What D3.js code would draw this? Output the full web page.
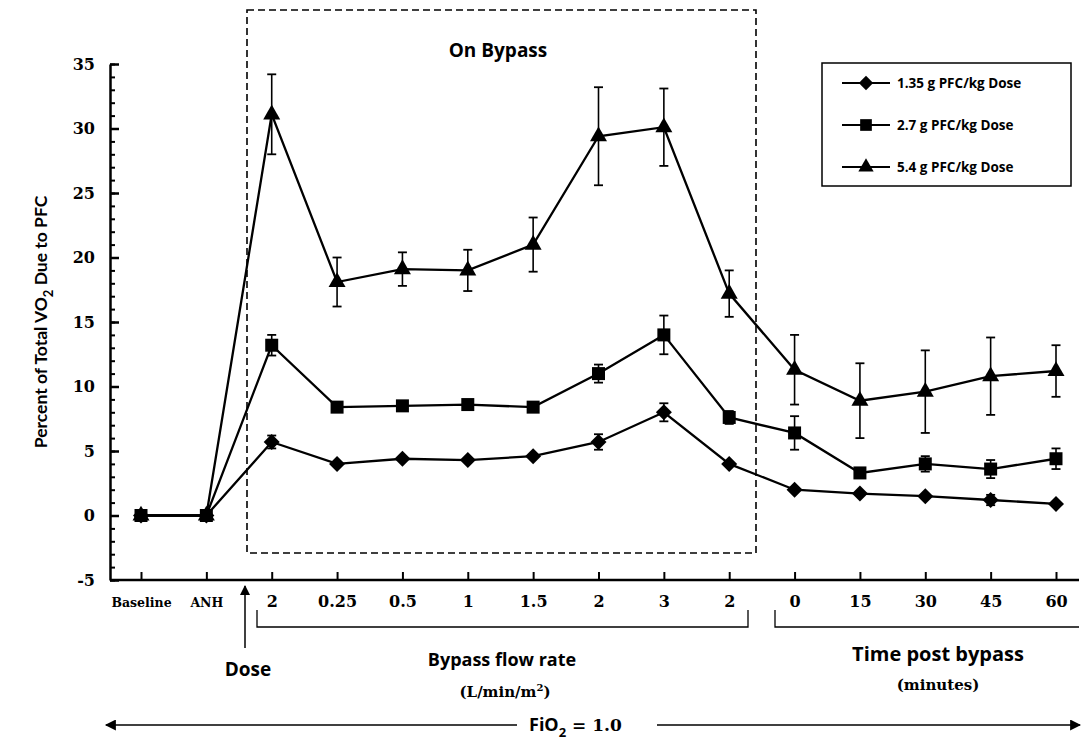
<!DOCTYPE html>
<html>
<head>
<meta charset="utf-8">
<script src="https://cdn.jsdelivr.net/npm/d3@7"></script>
<style>
  body { margin: 0; background: #fff; }
  svg { display: block; }
  .tick text { font-family: "DejaVu Serif", serif; font-weight: bold; fill: #000; }
  .lbl { font-family: "Open Sans", sans-serif; font-weight: bold; fill: #000; }
  .ylbl { font-family: Lato, sans-serif; font-weight: bold; fill: #000; }
  .ser { font-family: "DejaVu Serif", serif; font-weight: bold; fill: #000; }
</style>
</head>
<body>
<svg width="1081" height="742"></svg>
<script>
// x categories (tick labels)
const CATEGORIES = ["Baseline", "ANH", "2", "0.25", "0.5", "1", "1.5", "2", "3", "2", "0", "15", "30", "45", "60"];

// series values
const DOSE_LOW = [0, 0, 5.7, 4.0, 4.4, 4.3, 4.6, 5.7, 8.0, 4.0, 2.0, 1.7, 1.5, 1.2, 0.9];
const DOSE_LOW_ERR = [0, 0, 0.5, 0, 0, 0, 0, 0.6, 0.7, 0, 0, 0, 0, 0.4, 0];
const DOSE_MID = [0, 0, 13.2, 8.4, 8.5, 8.6, 8.4, 11.0, 14.0, 7.6, 6.4, 3.3, 4.0, 3.6, 4.4];
const DOSE_MID_ERR = [0, 0, 0.8, 0, 0, 0, 0, 0.7, 1.5, 0.5, 1.3, 0, 0.6, 0.7, 0.8];
const DOSE_HIGH = [0, 0, 31.1, 18.1, 19.1, 19.0, 21.0, 29.4, 30.1, 17.2, 11.3, 8.9, 9.6, 10.8, 11.2];
const DOSE_HIGH_ERR = [0, 0, 3.1, 1.9, 1.3, 1.6, 2.1, 3.8, 3.0, 1.8, 2.7, 2.9, 3.2, 3.0, 2.0];

const SERIES_NAMES = ["1.35 g PFC/kg Dose", "2.7 g PFC/kg Dose", "5.4 g PFC/kg Dose"];
const Y_TICKS = [-5, 0, 5, 10, 15, 20, 25, 30, 35];

const svg = d3.select('svg');

const AXIS_X0 = 110, AXIS_X1 = 1079;
const xScale = d3.scalePoint().domain(d3.range(CATEGORIES.length)).range([141, 1056]);
const yScale = d3.scaleLinear().domain([-5, 35]).range([580, 64]);

// marker shapes
const shapes = {
  diamond: r => `M0,${-r}L${r},0L0,${r}L${-r},0Z`,
  square: r => `M${-r},${-r}H${r}V${r}H${-r}Z`,
  triangle: r => `M0,${-r * 1.15}L${r},${r * 0.6}L${-r},${r * 0.6}Z`
};

const series = [
  {name: SERIES_NAMES[0], values: DOSE_LOW, err: DOSE_LOW_ERR, shape: 'diamond', r: 8},
  {name: SERIES_NAMES[1], values: DOSE_MID, err: DOSE_MID_ERR, shape: 'square', r: 6.5},
  {name: SERIES_NAMES[2], values: DOSE_HIGH, err: DOSE_HIGH_ERR, shape: 'triangle', r: 8.5}
];

//minor y ticks
svg.append('g')
.attr('transform', `translate(${AXIS_X0},0)`)
.call(d3.axisLeft(yScale).ticks(40).tickSizeInner(-5).tickSizeOuter(0).tickFormat(''))
.call(g => g.select('.domain').remove())
.selectAll('line').attr('stroke-width', 2);

//major y ticks
svg.append('g')
.attr('transform', `translate(${AXIS_X0},0)`)
.call(d3.axisLeft(yScale).tickValues(Y_TICKS).tickSizeInner(-9).tickSizeOuter(0).tickPadding(15)
  .tickFormat(d => String(d)))
.call(g => g.select('.domain').attr('stroke-width', 2.5))
.call(g => g.selectAll('line').attr('stroke-width', 2.5))
.selectAll('text').style('font-size', '16px');

//x axis
svg.append('g')
.attr('transform', `translate(0,${yScale(-5)})`)
.call(d3.axisBottom(xScale).tickSizeInner(-8).tickSizeOuter(0).tickPadding(16)
  .tickFormat(i => CATEGORIES[i]))
.call(g => g.select('.domain').remove())
.call(g => g.selectAll('line').attr('stroke-width', 2))
.selectAll('text')
.style('font-size', (d, i) => i < 2 ? '12.5px' : '16px')
.attr('dy', (d, i) => i < 2 ? '0.9em' : '0.71em');

svg.append('line')
.attr('x1', AXIS_X0).attr('x2', AXIS_X1)
.attr('y1', yScale(-5)).attr('y2', yScale(-5))
.attr('stroke', '#000').attr('stroke-width', 2.5);

//on bypass dashed box
svg.append('rect')
.attr('x', 247).attr('y', 10).attr('width', 509).attr('height', 543)
.attr('fill', 'none').attr('stroke', '#000').attr('stroke-width', 1.6)
.attr('stroke-dasharray', '7,4');

svg.append('text').attr('class', 'lbl')
.attr('x', 498).attr('y', 57).attr('text-anchor', 'middle')
.style('font-size', '19px').text('On Bypass');

//lines, error bars, markers
const line = d3.line().x((d, i) => xScale(i)).y(d => yScale(d));

series.forEach(s => {
  const g = svg.append('g');
  g.append('path').datum(s.values)
  .attr('d', line).attr('fill', 'none').attr('stroke', '#000').attr('stroke-width', 2.3);

  const eb = g.selectAll('.err').data(s.values.map((v, i) => ({v, e: s.err[i], i})).filter(d => d.e > 0))
  .enter().append('g').attr('class', 'err');
  eb.append('line')
  .attr('x1', d => xScale(d.i)).attr('x2', d => xScale(d.i))
  .attr('y1', d => yScale(d.v + d.e)).attr('y2', d => yScale(d.v - d.e))
  .attr('stroke', '#000').attr('stroke-width', 1.6);
  [1, -1].forEach(k => {
    eb.append('line')
    .attr('x1', d => xScale(d.i) - 4.5).attr('x2', d => xScale(d.i) + 4.5)
    .attr('y1', d => yScale(d.v + k * d.e)).attr('y2', d => yScale(d.v + k * d.e))
    .attr('stroke', '#000').attr('stroke-width', 1.8);
  });

  g.selectAll('.mark').data(s.values).enter().append('path')
  .attr('d', shapes[s.shape](s.r))
  .attr('transform', (d, i) => `translate(${xScale(i)},${yScale(d)})`)
  .attr('fill', '#000');
});

//legend
const legend = svg.append('g');
legend.append('rect')
.attr('x', 822).attr('y', 63).attr('width', 249).attr('height', 123)
.attr('fill', '#fff').attr('stroke', '#000').attr('stroke-width', 1.5);
series.forEach((s, k) => {
  const y = 83 + k * 42;
  legend.append('line').attr('x1', 842).attr('x2', 890).attr('y1', y).attr('y2', y)
  .attr('stroke', '#000').attr('stroke-width', 2);
  legend.append('path').attr('d', shapes[s.shape](s.r * 0.9))
  .attr('transform', `translate(866,${y})`).attr('fill', '#000');
  legend.append('text').attr('class', 'lbl')
  .attr('x', 897).attr('y', y + 5).style('font-size', '13.5px').text(s.name);
});

//y label
svg.append('text').attr('class', 'ylbl')
.attr('transform', 'translate(47,322) rotate(-90)')
.attr('text-anchor', 'middle').style('font-size', '17.5px')
.call(t => {
  t.append('tspan').text('Percent of Total VO');
  t.append('tspan').attr('dy', 6).style('font-size', '13px').text('2');
  t.append('tspan').attr('dy', -6).text(' Due to PFC');
});

//arrow heads
svg.append('defs').html(
  '<marker id="ah" viewBox="0 0 10 10" refX="9" refY="5" markerWidth="16" markerHeight="10" orient="auto-start-reverse" markerUnits="userSpaceOnUse">' +
  '<path d="M0,0L10,5L0,10Z" fill="#000"/></marker>' +
  '<marker id="ah2" viewBox="0 0 10 10" refX="9" refY="5" markerWidth="15" markerHeight="11" orient="auto-start-reverse" markerUnits="userSpaceOnUse">' +
  '<path d="M0,0L10,5L0,10Z" fill="#000"/></marker>');

//dose arrow
svg.append('line')
.attr('x1', 245).attr('x2', 245).attr('y1', 648).attr('y2', 586)
.attr('stroke', '#000').attr('stroke-width', 1.5).attr('marker-end', 'url(#ah)');

svg.append('text').attr('class', 'lbl')
.attr('x', 248).attr('y', 676).attr('text-anchor', 'middle')
.style('font-size', '19px').text('Dose');

//brackets
const bracket = (x0, x1) => svg.append('path')
.attr('d', `M${x0},610V627H${x1}` + (x1 < 1070 ? 'V610' : ''))
.attr('fill', 'none').attr('stroke', '#000').attr('stroke-width', 1.3);
bracket(257, 748);
bracket(775, 1079);

svg.append('text').attr('class', 'lbl')
.attr('x', 502).attr('y', 666).attr('text-anchor', 'middle')
.style('font-size', '18px').text('Bypass flow rate');
svg.append('text').attr('class', 'ser')
.attr('x', 505).attr('y', 697).attr('text-anchor', 'middle')
.style('font-size', '15px')
.call(t => {
  t.append('tspan').text('(L/min/m');
  t.append('tspan').attr('dy', -6).style('font-size', '10px').text('2');
  t.append('tspan').attr('dy', 6).text(')');
});

svg.append('text').attr('class', 'lbl')
.attr('x', 938).attr('y', 661).attr('text-anchor', 'middle')
.style('font-size', '20px').text('Time post bypass');
svg.append('text').attr('class', 'ser')
.attr('x', 938).attr('y', 690).attr('text-anchor', 'middle')
.style('font-size', '15px').text('(minutes)');

//FiO2 arrows
svg.append('line').attr('x1', 517).attr('x2', 106).attr('y1', 725).attr('y2', 725)
.attr('stroke', '#000').attr('stroke-width', 1.3).attr('marker-end', 'url(#ah2)');
svg.append('line').attr('x1', 657).attr('x2', 1080).attr('y1', 725).attr('y2', 725)
.attr('stroke', '#000').attr('stroke-width', 1.3).attr('marker-end', 'url(#ah2)');
svg.append('text').attr('class', 'lbl')
.attr('x', 529).attr('y', 731).style('font-size', '18px')
.call(t => {
  t.append('tspan').text('FiO');
  t.append('tspan').attr('dy', 6).style('font-size', '13px').text('2');
  t.append('tspan').attr('dy', -6).style('font-family', '"DejaVu Serif", serif').style('font-size', '17px').text(' = 1.0');
});
</script>
</body>
</html>
